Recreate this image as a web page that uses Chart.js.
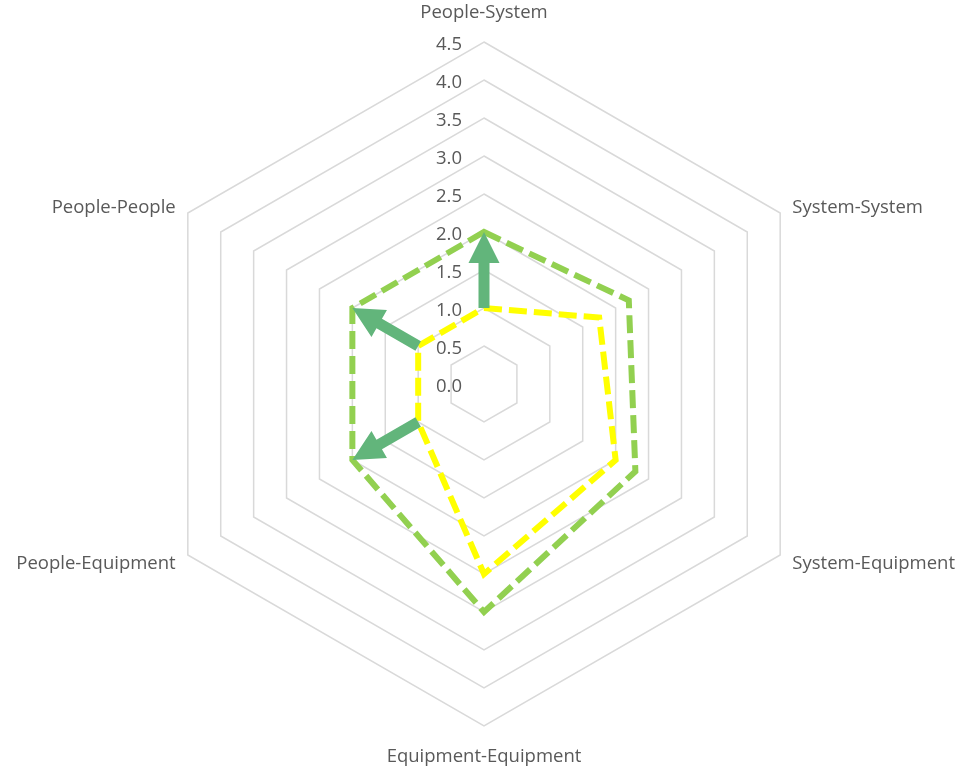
<!DOCTYPE html>
<html>
<head>
<meta charset="utf-8">
<script src="https://cdn.jsdelivr.net/npm/chart.js@4.4.1/dist/chart.umd.min.js"></script>
<style>
  html, body { margin: 0; padding: 0; background: #ffffff; }
  #wrap { width: 976px; height: 769px; }
</style>
</head>
<body>
<div id="wrap"><canvas id="radarChart" width="976" height="769"></canvas></div>
<script>
// categories, clockwise from the top
const categories = ['People-System', 'System-System', 'System-Equipment', 'Equipment-Equipment', 'People-Equipment', 'People-People'];
const greenValues = [2.0, 2.2, 2.3, 3.0, 2.0, 2.0];
const yellowValues = [1.0, 1.75, 2.0, 2.5, 1.0, 1.0];
const tickLabels = ['0.0', '0.5', '1.0', '1.5', '2.0', '2.5', '3.0', '3.5', '4.0', '4.5'];
// arrows go from the yellow value to the green value on these axes
const arrowAxes = [0, 5, 4];

const textColor = '#595959';
const fontFamily = '"Open Sans", sans-serif';

function drawArrow(ctx, from, to, shaft, headLen, headW) {
    const dx = to.x - from.x, dy = to.y - from.y;
    const len = Math.hypot(dx, dy);
    const ux = dx / len, uy = dy / len;
    const px = -uy, py = ux;
    const bx = to.x - ux * headLen, by = to.y - uy * headLen;
    ctx.beginPath();
    ctx.moveTo(from.x + px * shaft / 2, from.y + py * shaft / 2);
    ctx.lineTo(bx + px * shaft / 2, by + py * shaft / 2);
    ctx.lineTo(bx + px * headW / 2, by + py * headW / 2);
    ctx.lineTo(to.x, to.y);
    ctx.lineTo(bx - px * headW / 2, by - py * headW / 2);
    ctx.lineTo(bx - px * shaft / 2, by - py * shaft / 2);
    ctx.lineTo(from.x - px * shaft / 2, from.y - py * shaft / 2);
    ctx.closePath();
    ctx.fill();
}

//arrows, tick labels and axis labels drawn in excel style
const excelLabels = {
    id: 'excelLabels',
    afterDatasetsDraw(chart) {
        const r = chart.scales.r;
        const ctx = chart.ctx;
        ctx.save();

        ctx.fillStyle = '#62B57B';
        arrowAxes.forEach(i => {
            const from = r.getPointPositionForValue(i, yellowValues[i]);
            const to = r.getPointPositionForValue(i, greenValues[i]);
            drawArrow(ctx, from, to, 11, 31, 31);
        });

        ctx.fillStyle = textColor;
        ctx.font = '18.5px ' + fontFamily;
        ctx.textBaseline = 'alphabetic';
        ctx.textAlign = 'right';
        r.ticks.forEach(t => {
            const d = r.getDistanceFromCenterForValue(t.value);
            ctx.fillText(t.label, r.xCenter - 22, r.yCenter - d + 7.5);
        });

        categories.forEach((label, i) => {
            if (i === 0) {
                const p = r.getPointPosition(i, r.drawingArea);
                ctx.textAlign = 'center';
                ctx.fillText(label, p.x, p.y - 24.5);
            } else if (i === 3) {
                const p = r.getPointPosition(i, r.drawingArea);
                ctx.textAlign = 'center';
                ctx.fillText(label, p.x, p.y + 35.5);
            } else {
                const p = r.getPointPosition(i, r.drawingArea + 14);
                ctx.textAlign = i < 3 ? 'left' : 'right';
                ctx.fillText(label, p.x, p.y + 7);
            }
        });
        ctx.restore();
    }
};

const ctx = document.getElementById('radarChart').getContext('2d');
const radarChart = new Chart(ctx, {
    type: 'radar',
    data: {
        labels: categories,
        datasets: [{
            label: 'Current',
            data: yellowValues,
            borderColor: '#FFFF00',
            borderWidth: 6,
            borderDash: [18, 7],
            borderCapStyle: 'butt',
            borderJoinStyle: 'miter',
            fill: false,
            pointRadius: 0,
            pointHoverRadius: 0
        }, {
            label: 'Target',
            data: greenValues,
            borderColor: '#92D050',
            borderWidth: 6,
            borderDash: [18, 7],
            borderCapStyle: 'butt',
            borderJoinStyle: 'miter',
            fill: false,
            pointRadius: 0,
            pointHoverRadius: 0
        }]
    },
    options: {
        responsive: false,
        animation: false,
        layout: {
            padding: { left: 142, right: 150, top: 42, bottom: 43 }
        },
        plugins: {
            legend: { display: false },
            tooltip: { enabled: false }
        },
        scales: {
            r: {
                min: 0,
                max: 4.5,
                ticks: {
                    stepSize: 0.5,
                    display: false,
                    callback: (value, index) => tickLabels[index]
                },
                grid: {
                    circular: false,
                    color: '#D9D9D9',
                    lineWidth: 1.5
                },
                angleLines: { display: false },
                pointLabels: { display: false }
            }
        }
    },
    plugins: [excelLabels]
});
</script>
</body>
</html>
